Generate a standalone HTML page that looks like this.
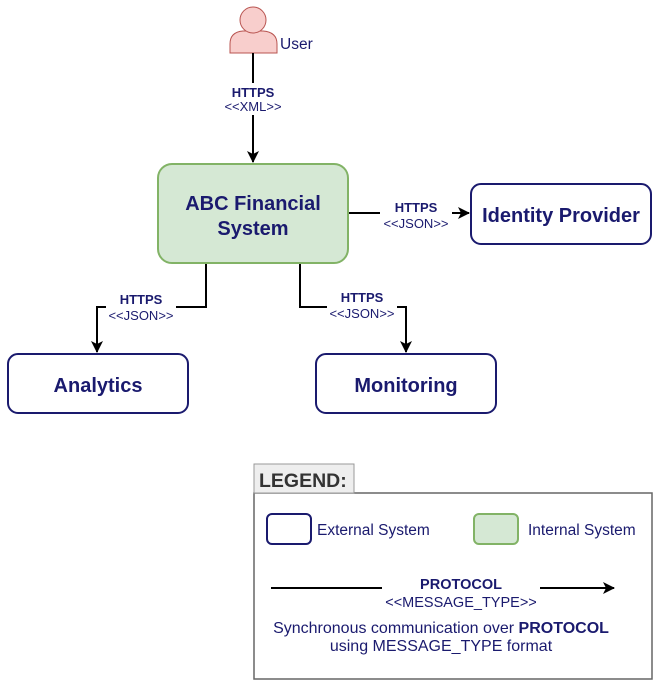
<!DOCTYPE html>
<html><head><meta charset="utf-8"><style>
body{margin:0;background:#fff;}
svg{display:block;font-family:"Liberation Sans",Arial,sans-serif;}
</style></head><body>
<svg width="658" height="685" viewBox="0 0 658 685" xmlns="http://www.w3.org/2000/svg">
<defs><marker id="a" markerWidth="12" markerHeight="12" refX="11" refY="6" orient="auto" markerUnits="userSpaceOnUse"><path d="M0,0 L12,6 L0,12 L3,6 Z" fill="#000"/></marker></defs>
<!-- user -->
<g fill="#f8cecc" stroke="#b85450" stroke-width="1">
<path d="M230,53 L230,44 Q230,32 243,31 L263,31 Q277,32 277,44 L277,53 Z"/>
<circle cx="253" cy="20" r="13"/>
</g>
<text x="280" y="49" font-size="15.5" fill="#1a1a6e">User</text>
<!-- connectors -->
<g stroke="#000" stroke-width="2" fill="none">
<line x1="253" y1="53" x2="253" y2="162" marker-end="url(#a)"/>
<line x1="348" y1="213" x2="469" y2="213" marker-end="url(#a)"/>
<polyline points="206,263 206,307 97,307 97,352" marker-end="url(#a)"/>
<polyline points="300,263 300,307 406,307 406,352" marker-end="url(#a)"/>
</g>
<g font-size="13" fill="#1a1a6e" text-anchor="middle">
<rect x="220" y="83" width="66" height="32" fill="#fff"/>
<text x="253" y="97" font-weight="bold">HTTPS</text>
<text x="253" y="111" font-size="13">&lt;&lt;XML&gt;&gt;</text>
<rect x="380" y="202" width="72" height="30" fill="#fff"/>
<text x="416" y="212" font-weight="bold">HTTPS</text>
<text x="416" y="228" font-size="13">&lt;&lt;JSON&gt;&gt;</text>
<rect x="106" y="292" width="70" height="30" fill="#fff"/>
<text x="141" y="304" font-weight="bold">HTTPS</text>
<text x="141" y="320" font-size="13">&lt;&lt;JSON&gt;&gt;</text>
<rect x="327" y="290" width="70" height="30" fill="#fff"/>
<text x="362" y="302" font-weight="bold">HTTPS</text>
<text x="362" y="318" font-size="13">&lt;&lt;JSON&gt;&gt;</text>
</g>
<!-- boxes -->
<rect x="158" y="164" width="190" height="99" rx="14" fill="#d5e8d4" stroke="#82b366" stroke-width="2"/>
<g stroke="#1a1a6e" stroke-width="2" fill="#fff">
<rect x="471" y="184" width="180" height="60" rx="10"/>
<rect x="8" y="354" width="180" height="59" rx="10"/>
<rect x="316" y="354" width="180" height="59" rx="10"/>
</g>
<g font-size="20" font-weight="bold" fill="#1a1a6e" text-anchor="middle">
<text x="253" y="210">ABC Financial</text>
<text x="253" y="235">System</text>
<text x="561" y="222">Identity Provider</text>
<text x="98" y="392">Analytics</text>
<text x="406" y="392">Monitoring</text>
</g>
<!-- legend -->
<rect x="254" y="493" width="398" height="186" fill="#fff" stroke="#666" stroke-width="1.5"/>
<rect x="254" y="464" width="100" height="29" fill="#eeeeee" stroke="#999" stroke-width="1"/>
<text x="259" y="487" font-size="19.5" font-weight="bold" fill="#333">LEGEND:</text>
<rect x="267" y="514" width="44" height="30" rx="5" fill="#fff" stroke="#1a1a6e" stroke-width="2"/>
<text x="317" y="535" font-size="15.5" fill="#1a1a6e">External System</text>
<rect x="474" y="514" width="44" height="30" rx="5" fill="#d5e8d4" stroke="#82b366" stroke-width="2"/>
<text x="528" y="535" font-size="15.5" fill="#1a1a6e">Internal System</text>
<line x1="271" y1="588" x2="382" y2="588" stroke="#000" stroke-width="2"/>
<line x1="540" y1="588" x2="614" y2="588" stroke="#000" stroke-width="2" marker-end="url(#a)"/>
<g fill="#1a1a6e" text-anchor="middle">
<text x="461" y="589" font-size="14.5" font-weight="bold">PROTOCOL</text>
<text x="461" y="607" font-size="14.5">&lt;&lt;MESSAGE_TYPE&gt;&gt;</text>
<text x="441" y="633" font-size="16">Synchronous communication over <tspan font-weight="bold">PROTOCOL</tspan></text>
<text x="441" y="651" font-size="16">using MESSAGE_TYPE format</text>
</g>
</svg>
</body></html>
